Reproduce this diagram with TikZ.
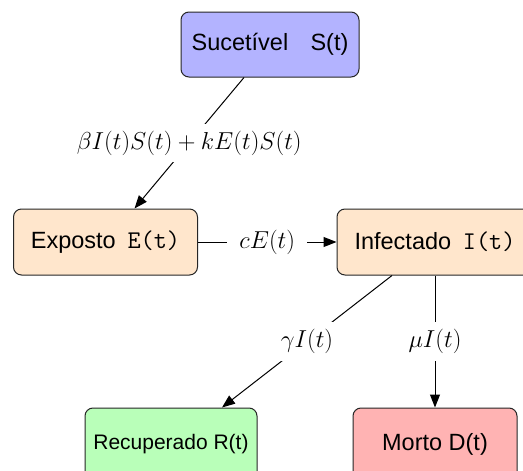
\RequirePackage{fix-cm}
\documentclass[tikz,border=0pt]{standalone}
\usepackage{fontspec}
\setmainfont{Liberation Sans}
\usetikzlibrary{arrows.meta}
\definecolor{sus}{RGB}{179,179,255}
\definecolor{peach}{RGB}{255,230,204}
\definecolor{rec}{RGB}{185,255,185}
\definecolor{dead}{RGB}{255,179,179}
\newcommand{\mono}[1]{{\fontsize{25.5}{30}\selectfont\ttfamily #1}}
\begin{document}
\begin{tikzpicture}[x=1pt,y=-1pt,
  box/.style={draw=black!85, line width=1pt, rounded corners=8pt, inner sep=0pt, font=\fontsize{23.5}{28}\selectfont},
  lab/.style={fill=white, inner xsep=12pt, inner ysep=7pt, font=\fontsize{24.5}{29}\selectfont},
  arr/.style={line width=1pt, -{Triangle[length=13pt,width=10pt]}}]
\useasboundingbox (0,0) rectangle (523,471);
\node[box, fill=sus, minimum width=178pt, minimum height=65pt] (S) at (270,44.5) {Sucetível\hspace{0.95em}S(t)};
\node[box, fill=peach, minimum width=184pt, minimum height=66pt] (E) at (105.5,242) {Exposto\hspace{0.5em}\mono{E(t)}};
\node[box, fill=peach, minimum width=196pt, minimum height=66pt] (I) at (435,242) {Infectado\hspace{0.5em}\mono{I(t)}};
\node[box, fill=rec, font=\fontsize{21}{25}\selectfont, minimum width=172pt, minimum height=72pt] (R) at (171,444) {Recuperado R(t)};
\node[box, fill=dead, minimum width=164pt, minimum height=72pt] (D) at (435,444) {Morto D(t)};
\draw[arr] ([xshift=-26pt]S.south) -- node[lab]{$\beta I(t)S(t) + kE(t)S(t)$} ([xshift=29pt]E.north);
\draw[arr] (E.east) -- node[lab]{$cE(t)$} (I.west);
\draw[arr] ([xshift=-43pt]I.south) -- node[lab]{$\gamma I(t)$} ([xshift=51pt]R.north);
\draw[arr] (I.south) -- node[lab]{$\mu I(t)$} (D.north);
\end{tikzpicture}
\end{document}
